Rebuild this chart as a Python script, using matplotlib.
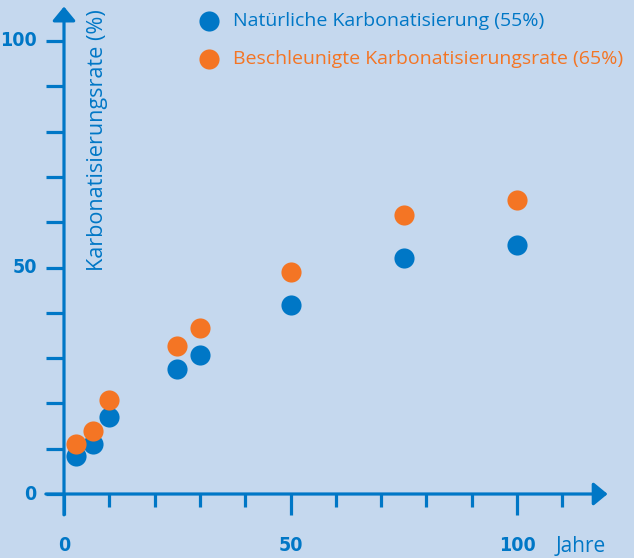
import numpy as np
import matplotlib
matplotlib.use("Agg")
import matplotlib.pyplot as plt

# ── data ──────────────────────────────────────
years        = [2.7, 6.3, 10, 25, 30, 50, 75, 100]
natural      = [8.4, 11.0, 17.1, 27.6, 30.7, 41.7, 52.0, 55.0]
accelerated  = [11.0, 13.8, 20.8, 32.7, 36.6, 49.0, 61.6, 65.0]

label_natural = "Natürliche Karbonatisierung (55%)"
label_accel   = "Beschleunigte Karbonatisierungsrate (65%)"

x_ticks       = [0, 10, 20, 30, 40, 50, 60, 70, 80, 90, 100, 110]
x_labels      = [0, 50, 100]
y_ticks       = [0, 10, 20, 30, 40, 50, 60, 70, 80, 90, 100]
y_labels      = [0, 50, 100]

# ── style ─────────────────────────────────────
BG     = "#c5d8ee"
BLUE   = "#0077c6"
ORANGE = "#f47524"
TEXT_FONT = ["Open Sans", "DejaVu Sans"]
NUM_FONT  = ["DejaVu Sans"]

W, H = 634, 558
fig = plt.figure(figsize=(W / 100, H / 100), dpi=100, facecolor=BG)
ax = fig.add_axes([0, 0, 1, 1], facecolor=BG)

# 4.53 px per unit, origin at (64, 494) px from top-left
PX = 4.53
ax.set_xlim(-64 / PX, (W - 64) / PX)
ax.set_ylim(-(H - 494) / PX, 494 / PX)
ax.axis("off")

lw = 2.3
arrow = dict(arrowstyle="-|>,head_length=0.85,head_width=0.7",
             color=BLUE, lw=lw, shrinkA=0, shrinkB=0)
ax.annotate("", xy=(120, 0), xytext=(-4, 0), arrowprops=arrow)
ax.annotate("", xy=(0, 107.6), xytext=(0, -4.6), arrowprops=arrow)

# ticks
for t in x_ticks:
    depth = 4.6 if t in x_labels else 2.8
    ax.plot([t, t], [0, -depth], color=BLUE, lw=lw, solid_capstyle="butt")
for t in y_ticks:
    ax.plot([-4, 0], [t, t], color=BLUE, lw=lw, solid_capstyle="butt")

for t in x_labels:
    ax.text(t, -11.3, str(t), color=BLUE, ha="center", va="center",
            fontsize=14, fontweight="bold", fontstretch="condensed",
            family=NUM_FONT)
for t in y_labels:
    ax.text(-6, t, str(t), color=BLUE, ha="right", va="center",
            fontsize=14, fontweight="bold", fontstretch="condensed",
            family=NUM_FONT)

ax.text(108.6, -11.5, "Jahre", color=BLUE, ha="left", va="center",
        fontsize=15, family=TEXT_FONT)
ax.text(7.3, 107, "Karbonatisierungsrate (%)", color=BLUE, rotation=90,
        ha="center", va="top", fontsize=15.6, family=TEXT_FONT)

# points
ax.scatter(years, natural, s=210, color=BLUE, lw=0, zorder=3,
           label=label_natural)
ax.scatter(years, accelerated, s=210, color=ORANGE, lw=0, zorder=4,
           label=label_accel)

leg = ax.legend(loc="upper left", bbox_to_anchor=(195.4 / W, 1 - 12 / H),
                frameon=False, labelcolor=[BLUE, ORANGE],
                prop={"family": TEXT_FONT, "size": 14},
                handletextpad=0.55, labelspacing=1.04, borderaxespad=0,
                borderpad=0, handlelength=1.4)

fig.savefig("out.png", dpi=100, facecolor=BG)
